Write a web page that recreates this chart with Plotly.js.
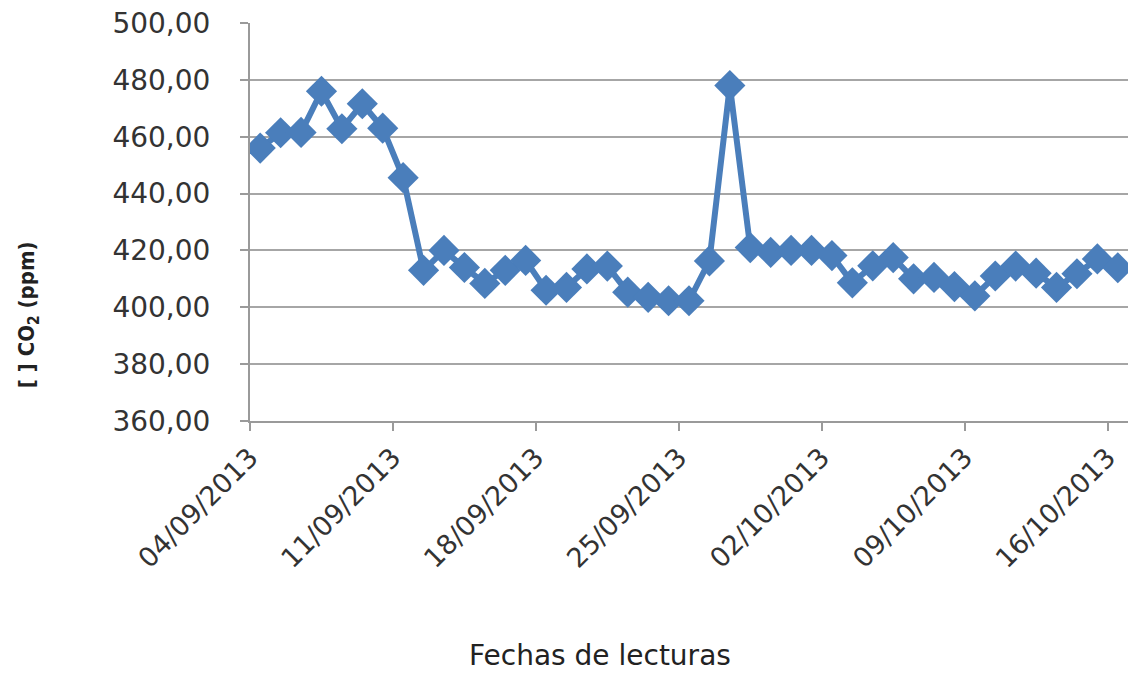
<!DOCTYPE html>
<html>
<head>
<meta charset="utf-8">
<script src="https://cdn.plot.ly/plotly-3.0.1.min.js"></script>
<style>html,body{margin:0;padding:0;background:#fff;}#chart{width:1135px;height:676px;}</style>
</head>
<body>
<div id="chart"></div>
<script>
// Reading dates (one reading per day)
const fechas = [
  "2013-09-04","2013-09-05","2013-09-06","2013-09-07","2013-09-08","2013-09-09","2013-09-10",
  "2013-09-11","2013-09-12","2013-09-13","2013-09-14","2013-09-15","2013-09-16","2013-09-17",
  "2013-09-18","2013-09-19","2013-09-20","2013-09-21","2013-09-22","2013-09-23","2013-09-24",
  "2013-09-25","2013-09-26","2013-09-27","2013-09-28","2013-09-29","2013-09-30","2013-10-01",
  "2013-10-02","2013-10-03","2013-10-04","2013-10-05","2013-10-06","2013-10-07","2013-10-08",
  "2013-10-09","2013-10-10","2013-10-11","2013-10-12","2013-10-13","2013-10-14","2013-10-15",
  "2013-10-16"
];
// CO2 concentration (ppm)
const co2 = [
  456.0, 461.4, 461.5, 476.0, 462.8, 471.6, 463.0,
  445.6, 413.0, 420.0, 414.0, 408.4, 413.0, 416.5,
  406.0, 407.0, 413.5, 414.5, 405.3, 403.5, 402.3,
  402.3, 416.3, 478.0, 421.0, 419.3, 420.0, 420.0,
  418.2, 408.6, 414.6, 417.5, 410.0, 410.5, 407.3,
  404.0, 411.0, 414.5, 412.0, 407.0, 411.8, 417.0,
  413.9
];
// Tick labels
const tickVals = ["2013-09-04","2013-09-11","2013-09-18","2013-09-25","2013-10-02","2013-10-09","2013-10-16"];
const tickText = ["04/09/2013","11/09/2013","18/09/2013","25/09/2013","02/10/2013","09/10/2013","16/10/2013"];
const xTitle = "Fechas de lecturas";
const yTitle = "[ ] CO<sub>2</sub> (ppm)";

const blue = "#4a7ebb";
const font = "DejaVu Sans, Verdana, sans-serif";

const trace = {
  x: fechas,
  y: co2,
  type: "scatter",
  mode: "lines+markers",
  xperiod: 86400000,
  xperiodalignment: "middle",
  line: {color: blue, width: 6},
  marker: {symbol: "diamond", size: 24, color: blue},
  hoverinfo: "x+y"
};

const layout = {
  width: 1135,
  height: 676,
  margin: {l: 250, r: 7, t: 23, b: 255},
  paper_bgcolor: "#ffffff",
  plot_bgcolor: "#ffffff",
  separators: ", ",
  showlegend: false,
  font: {family: font, color: "#404040", size: 27},
  xaxis: {
    type: "date",
    range: ["2013-09-04", "2013-10-17"],
    tickmode: "array",
    tickvals: tickVals,
    ticktext: tickText,
    tickangle: -45,
    ticks: "outside",
    ticklen: 8,
    tickwidth: 2,
    tickcolor: "#9a9a9a",
    showgrid: false,
    showline: true,
    linecolor: "#9a9a9a",
    linewidth: 2,
    zeroline: false,
    tickfont: {family: font, size: 27, color: "#333333"}
  },
  yaxis: {
    range: [360, 500],
    dtick: 20,
    tick0: 360,
    tickformat: ".2f",
    ticks: "outside",
    ticklen: 8,
    tickwidth: 2,
    tickcolor: "#9a9a9a",
    ticklabelstandoff: 24,
    showgrid: true,
    gridcolor: "#a6a6a6",
    gridwidth: 2,
    showline: true,
    linecolor: "#9a9a9a",
    linewidth: 2,
    zeroline: false,
    tickfont: {family: font, size: 28, color: "#333333"}
  },
  annotations: [
    {
      text: xTitle, xref: "paper", yref: "paper",
      x: 0.399, y: -0.588, xanchor: "center", yanchor: "middle",
      showarrow: false,
      font: {family: font, size: 28, color: "#222222"}
    },
    {
      text: yTitle, xref: "paper", yref: "paper",
      x: -0.2528, y: 0.266, xanchor: "center", yanchor: "middle",
      textangle: -90, showarrow: false,
      font: {family: "DejaVu Sans Condensed, DejaVu Sans, sans-serif", size: 22, color: "#222222", weight: "bold"}
    }
  ]
};

Plotly.newPlot("chart", [trace], layout, {displayModeBar: false, staticPlot: true});
</script>
</body>
</html>
